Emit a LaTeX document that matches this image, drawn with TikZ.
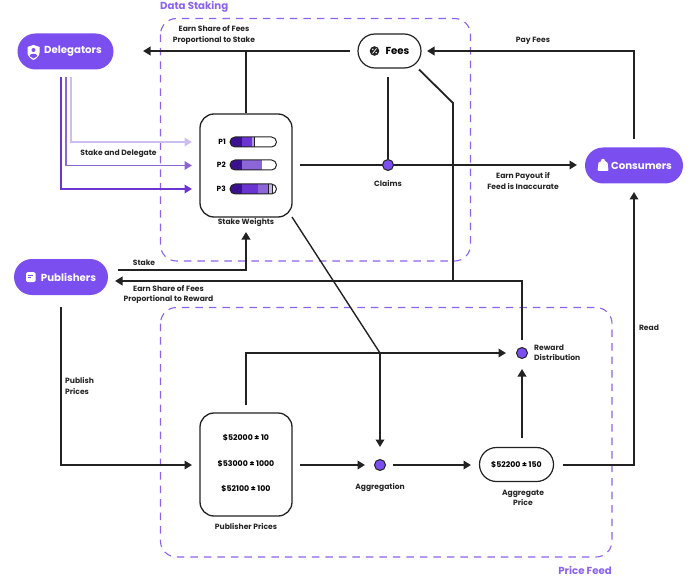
\documentclass[tikz,border=0pt]{standalone}
\usepackage{fontspec}
\setmainfont{Poppins}
\usepackage{xcolor}
\usetikzlibrary{arrows.meta, positioning, backgrounds}

\definecolor{mainPurple}{HTML}{7B4FEF}
\definecolor{dashPurple}{HTML}{8A63EE}
\definecolor{softPurple}{HTML}{CDBDF0}
\definecolor{midPurple}{HTML}{8C66D6}
\definecolor{deepPurple}{HTML}{6A35D2}
\definecolor{inkPurple}{HTML}{3C1190}
\definecolor{inkLine}{HTML}{222222}

\tikzset{
    actor/.style={rounded corners=18pt, fill=mainPurple, text=white, minimum height=36pt, inner sep=0pt, font=\fontsize{10.2}{12}\selectfont\bfseries},
    pill/.style={draw=inkLine, line width=1.2pt, rounded corners=17pt, minimum height=34pt, inner sep=0pt},
    panel/.style={draw=inkLine, line width=1.3pt, rounded corners=14pt, minimum width=92pt, minimum height=103pt, inner sep=0pt},
    spot/.style={circle, draw=inkLine, line width=1pt, fill=mainPurple, minimum size=11pt, inner sep=0pt},
    region/.style={draw=dashPurple, line width=1.1pt, dash pattern=on 7.5pt off 6pt, rounded corners=16pt},
    flow/.style={draw=inkLine, line width=1.8pt},
    tip/.style={flow, -{Triangle[length=7.5pt, width=8.5pt]}},
    small/.style={font=\fontsize{7.6}{10.2}\selectfont\bfseries, align=center, inner sep=0pt, text=black!85},
    price/.style={font=\fontsize{7.8}{9}\selectfont\bfseries, inner sep=0pt},
    regionname/.style={font=\fontsize{10.2}{11}\selectfont\bfseries, text=dashPurple, inner sep=0pt},
    barname/.style={font=\fontsize{7.4}{8}\selectfont\bfseries, inner sep=0pt}
}

\begin{document}
\begin{tikzpicture}[x=1pt, y=-1pt]
    \useasboundingbox (0,0) rectangle (693,588);

    \node[regionname, anchor=west] (stakingname) at (160,6.5) {Data Staking};
    \node[regionname, anchor=east] (feedname) at (612,570) {Price Feed};

    % actors
    \node[actor, minimum width=96pt] (delegators) at (65.5,51.5) {\hspace{15pt}Delegators};
    \node[actor, minimum width=94pt] (publishers) at (61,277) {\hspace{15pt}Publishers};
    \node[actor, minimum width=98pt] (consumers) at (634,165.5) {\hspace{15pt}Consumers};
    \node[pill, minimum width=63pt, font=\fontsize{10.2}{12}\selectfont\bfseries] (fees) at (389.5,51) {\hspace{16pt}Fees};

    % panels
    \node[panel] (weights) at (246,165.5) {};
    \node[panel] (prices) at (246,464.5) {};
    \node[pill, minimum width=74pt, font=\fontsize{7.8}{9}\selectfont\bfseries] (aggregate) at (516.5,464.5) {\$52200 ± 150};

    % spots
    \node[spot] (claims) at (388,165) {};
    \node[spot] (aggregation) at (380,465) {};
    \node[spot] (reward) at (522,353) {};

    % icons
    \fill[white] (27.5,47) -- (33.5,45) -- (39.5,47) -- (39.5,53) .. controls (39.5,56) and (36,59) .. (33.5,60) .. controls (31,59) and (27.5,56) .. (27.5,53) -- cycle;
    \fill[mainPurple] (33.5,50) circle (2);
    \fill[mainPurple] (29.5,56) .. controls (30,53) and (37,53) .. (37.5,56) -- (33.5,58.5) -- cycle;
    \fill[white, rounded corners=1.5pt] (26,272) rectangle (35.5,282);
    \draw[mainPurple, line width=0.8pt] (28,275) -- (33,275) (28,277.5) -- (31,277.5);
    \fill[white, rounded corners=1pt] (597.5,171) -- (598.5,162) -- (601,162) .. controls (601,158) and (605,158) .. (605,162) -- (607.5,162) -- (608.5,171) -- cycle;
    \fill[inkLine] (374.5,51) circle (4.8);
    \draw[white, line width=0.7pt] (372.5,53.5) -- (376.5,48.5);
    \fill[white] (372.8,49.3) circle (0.8) (376.2,52.7) circle (0.8);

    % stake bars
    \foreach \name/\row in {P1/142, P2/165, P3/188.5} {
        \node[barname, anchor=east] (\name) at (226,\row) {\name};
    }
    \begin{scope}
        \clip[rounded corners=5pt] (230,137) rectangle (276.5,147);
        \fill[inkPurple] (230,137) rectangle (242,147);
        \fill[deepPurple] (242,137) rectangle (252,147);
        \fill[midPurple!70] (252,137) rectangle (255,147);
        \draw[inkLine, line width=0.7pt] (254,137) -- (254,147);
    \end{scope}
    \draw[inkLine, line width=1pt, rounded corners=5pt] (230,137) rectangle (276.5,147);
    \begin{scope}
        \clip[rounded corners=5pt] (230,160) rectangle (276.5,170);
        \fill[inkPurple] (230,160) rectangle (242,170);
        \fill[midPurple] (242,160) rectangle (262,170);
    \end{scope}
    \draw[inkLine, line width=1pt, rounded corners=5pt] (230,160) rectangle (276.5,170);
    \begin{scope}
        \clip[rounded corners=5pt] (230,184) rectangle (276.5,194);
        \fill[inkPurple] (230,184) rectangle (242,194);
        \fill[deepPurple] (242,184) rectangle (258,194);
        \fill[midPurple] (258,184) rectangle (268,194);
        \fill[midPurple!50] (268,184) rectangle (272,194);
        \draw[inkLine, line width=0.7pt] (268,184) -- (268,194) (272,184) -- (272,194);
    \end{scope}
    \draw[inkLine, line width=1pt, rounded corners=5pt] (230,184) rectangle (276.5,194);

    % prices
    \node[price] (priceone) at (246,438) {\$52000 ± 10};
    \node[price] (pricetwo) at (246,463.5) {\$53000 ± 1000};
    \node[price] (pricethree) at (246,489) {\$52100 ± 100};

    % free ends
    \coordinate (feesleft) at (350,51);
    \coordinate (delegend) at (143,51);
    \coordinate (sharejoin) at (246,51);
    \coordinate (softstart) at (71,77);
    \coordinate (softbend) at (71,142);
    \coordinate (softend) at (192,142);
    \coordinate (midstart) at (65.6,77);
    \coordinate (midbend) at (65.6,165.5);
    \coordinate (midend) at (192,165.5);
    \coordinate (deepstart) at (61,77);
    \coordinate (deepbend) at (61,189);
    \coordinate (deepend) at (192,189);
    \coordinate (weightsout) at (300,165);
    \coordinate (consumersin) at (577,165);
    \coordinate (feesdown) at (388,77);
    \coordinate (feesslant) at (419,69.5);
    \coordinate (feesbend) at (453,103);
    \coordinate (feesjoin) at (453,281);
    \coordinate (rewardup) at (522,340);
    \coordinate (rewardbend) at (522,281);
    \coordinate (publishersin) at (115,281);
    \coordinate (payup) at (634,139);
    \coordinate (paybend) at (634,51);
    \coordinate (feesin) at (427,51);
    \coordinate (aggregateout) at (563,465);
    \coordinate (readbend) at (634,465);
    \coordinate (consumersout) at (634,192);
    \coordinate (stakeout) at (118,269.9);
    \coordinate (stakebend) at (246,269.9);
    \coordinate (stakein) at (246,232);
    \coordinate (slantstart) at (292,217);
    \coordinate (slantjoin) at (380,353);
    \coordinate (aggregationin) at (380,447);
    \coordinate (pricesup) at (246,405);
    \coordinate (pricesbend) at (246,353);
    \coordinate (rewardin) at (506,353);
    \coordinate (publishstart) at (61,307);
    \coordinate (publishbend) at (61,465);
    \coordinate (pricesin) at (192,465);
    \coordinate (pricesout) at (300,465);
    \coordinate (aggregationleft) at (365,465);
    \coordinate (aggregationright) at (393,465);
    \coordinate (aggregatein) at (471,465);
    \coordinate (aggregateup) at (522,438);
    \coordinate (rewardlow) at (522,369);

    % regions and connectors go under the nodes
    \begin{scope}[on background layer]
        \draw[region] (160.5,18.5) rectangle (470.5,261);
        \draw[region] (160.5,307.5) rectangle (612,557);

        \draw[tip] (feesleft) to (delegend);
        \draw[flow] (weights.north) to (sharejoin);
        \draw[tip, draw=softPurple] (softstart) -- (softbend) -- (softend);
        \draw[tip, draw=midPurple] (midstart) -- (midbend) -- (midend);
        \draw[tip, draw=deepPurple] (deepstart) -- (deepbend) -- (deepend);
        \draw[flow] (feesdown) to (claims);
        \draw[tip] (weightsout) -- (consumersin);
        \draw[flow] (feesslant) -- (feesbend) -- (feesjoin);
        \draw[tip] (rewardup) -- (rewardbend) -- (publishersin);
        \draw[tip] (payup) -- (paybend) -- (feesin);
        \draw[tip] (aggregateout) -- (readbend) -- (consumersout);
        \draw[tip] (stakeout) -- (stakebend) -- (stakein);
        \draw[flow, line width=1.4pt] (slantstart) -- (slantjoin);
        \draw[tip] (slantjoin) -- (aggregationin);
        \draw[tip] (pricesup) -- (pricesbend) -- (rewardin);
        \draw[tip] (publishstart) -- (publishbend) -- (pricesin);
        \draw[tip] (pricesout) to (aggregationleft);
        \draw[tip] (aggregationright) to (aggregatein);
        \draw[tip] (aggregateup) to (rewardlow);
    \end{scope}

    % labels
    \node[small] (sharefees) at (214,35) {Earn Share of Fees\\Proportional to Stake};
    \node[small] (payfees) at (533,41) {Pay Fees};
    \node[small] (delegate) at (118.5,153.5) {Stake and Delegate};
    \node[small] (weightsname) at (246,223) {Stake Weights};
    \node[small] (claimsname) at (388,183) {Claims};
    \node[small] (payout) at (523,181) {Earn Payout if\\Feed is Inaccurate};
    \node[small] (stakename) at (144,262.5) {Stake};
    \node[small] (sharereward) at (168.5,294.5) {Earn Share of Fees\\Proportional to Reward};
    \node[small] (readname) at (649,328) {Read};
    \node[small, align=left, anchor=west] (publishname) at (65,386) {Publish\\Prices};
    \node[small, align=left, anchor=west] (rewardname) at (534,352.5) {Reward\\Distribution};
    \node[small] (pricesname) at (246,526.5) {Publisher Prices};
    \node[small] (aggregationname) at (380,487.5) {Aggregation};
    \node[small] (aggregatename) at (523,498) {Aggregate\\Price};
\end{tikzpicture}
\end{document}
